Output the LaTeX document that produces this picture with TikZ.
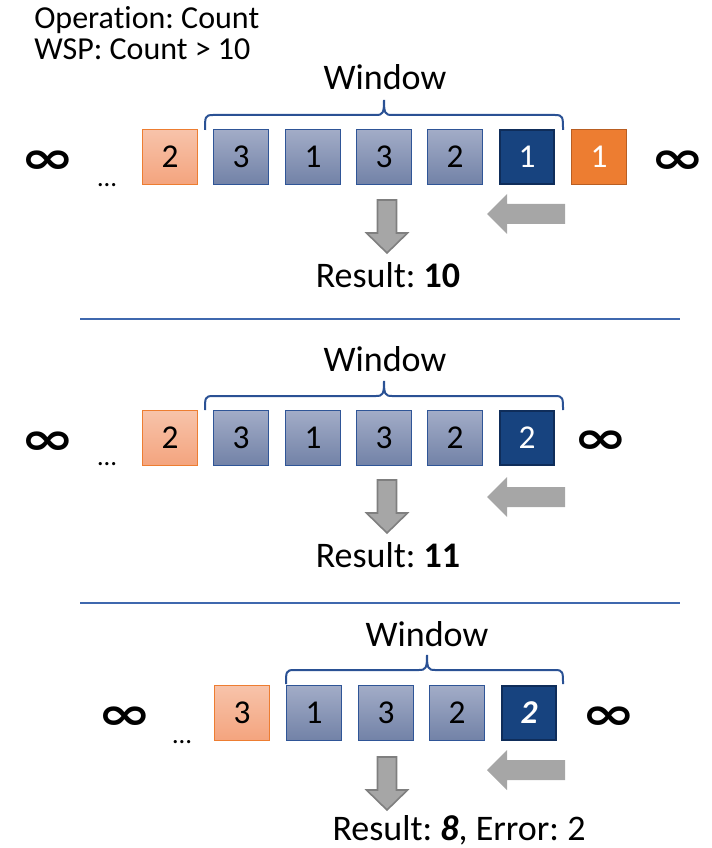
\documentclass[tikz,border=0pt]{standalone}
\usepackage{fontspec}
\setmainfont{Carlito}[Ligatures=NoCommon]
\newfontfamily\symfont{DejaVu Sans}
\frenchspacing
\definecolor{bluetop}{HTML}{A2ACC7}
\definecolor{bluebot}{HTML}{7282A7}
\definecolor{blueedge}{HTML}{2F5597}
\definecolor{darkfill}{HTML}{17437F}
\definecolor{darkedge}{HTML}{0F2D5A}
\definecolor{ltop}{HTML}{F7C3AA}
\definecolor{lbot}{HTML}{F4A47E}
\definecolor{ledge}{HTML}{ED7D31}
\definecolor{orfill}{HTML}{ED7D31}
\definecolor{oredge}{HTML}{B95E22}
\definecolor{agray}{HTML}{A6A6A6}
\definecolor{aedge}{HTML}{7F7F7F}
\definecolor{divider}{HTML}{3F68AE}
\definecolor{bracec}{HTML}{2A5194}
\tikzset{
  x=0.75pt, y=-0.75pt,
  cell/.style={minimum width=41pt, minimum height=41pt, inner sep=0pt, line width=1.1pt,
    font=\fontsize{25}{25}\selectfont},
  bluecell/.style={cell, draw=blueedge, top color=bluetop, bottom color=bluebot},
  darkcell/.style={cell, draw=darkedge, line width=1.6pt, fill=darkfill, text=white},
  lightcell/.style={cell, draw=ledge, top color=ltop, bottom color=lbot},
  orcell/.style={cell, draw=oredge, fill=orfill, text=white},
  inf/.style={inner sep=0pt},
  dots/.style={anchor=base, inner sep=0pt, font=\fontsize{20}{20}\selectfont},
  lbl/.style={anchor=base, inner sep=0pt, font=\fontsize{27}{27}\selectfont},
  hdr/.style={anchor=base west, inner sep=0pt, font=\fontsize{24}{24}\selectfont},
  bracestyle/.style={draw=bracec, line width=1.5pt},
  downarrow/.style={fill=agray, draw=aedge, line width=1.2pt},
  leftarrow/.style={fill=agray},
  divline/.style={draw=divider, line width=1.1pt}
}
\newcommand{\infsym}{\resizebox{41pt}{17pt}{\symfont\bfseries ∞}}
\newcommand{\wbrace}[5]{% left x, right x, tip x, top y, bottom y
  \draw[bracestyle] (#1,#5) .. controls (#1,#4+2) and (#1,#4) .. (#1+8,#4) -- (#3-8,#4)
    .. controls (#3-1,#4) and (#3,#4-2) .. (#3,#4-15)
    .. controls (#3,#4-2) and (#3+1,#4) .. (#3+8,#4) -- (#2-8,#4)
    .. controls (#2,#4) and (#2,#4+2) .. (#2,#5);}
\newcommand{\darrow}[2]{% center x, top y
  \draw[downarrow] (#1-9.5,#2) -- (#1+9.5,#2) -- (#1+9.5,#2+33) -- (#1+20.5,#2+33)
    -- (#1,#2+53) -- (#1-20.5,#2+33) -- (#1-9.5,#2+33) -- cycle;}
\newcommand{\larrow}[1]{% center y
  \fill[leftarrow] (565,#1-10) -- (507,#1-10) -- (507,#1-20) -- (487,#1)
    -- (507,#1+20) -- (507,#1+10) -- (565,#1+10) -- cycle;}
\begin{document}
\begin{tikzpicture}
\useasboundingbox (0,0) rectangle (712,848);
% header
\node[hdr] (op) at (34,29) {Operation: Count};
\node[hdr] (wsp) at (34,60) {WSP: Count > 10};

% ---------- row 1 ----------
\node[inf] (i1l) at (48,162) {\infsym};
\node[inf] (i1r) at (678,162) {\infsym};
\node[dots] (d1) at (107,187) {…};
\node[lightcell] (a0) at (170,157) {2};
\node[bluecell] (a1) at (241,157) {3};
\node[bluecell] (a2) at (313,157) {1};
\node[bluecell] (a3) at (384,157) {3};
\node[bluecell] (a4) at (455,157) {2};
\node[darkcell] (a5) at (527,157) {1};
\node[orcell] (a6) at (599,157) {1};
\wbrace{205}{563}{384}{115}{130}
\node[lbl] (w1) at (385,90) {Window};
\darrow{387}{200}
\larrow{214}
\node[lbl] (r1) at (388,287) {Result: \textbf{10}};
\draw[divline] (80,319) -- (680,319);

% ---------- row 2 ----------
\node[inf] (i2l) at (48,443) {\infsym};
\node[inf] (i2r) at (601,442) {\infsym};
\node[dots] (d2) at (107,465) {…};
\node[lightcell] (b0) at (170,438) {2};
\node[bluecell] (b1) at (241,438) {3};
\node[bluecell] (b2) at (313,438) {1};
\node[bluecell] (b3) at (384,438) {3};
\node[bluecell] (b4) at (455,438) {2};
\node[darkcell] (b5) at (527,438) {2};
\wbrace{205}{563}{384}{396}{410}
\node[lbl] (w2) at (385,371) {Window};
\darrow{387}{480}
\larrow{497}
\node[lbl] (r2) at (388,567) {Result: \textbf{11}};
\draw[divline] (80,603) -- (680,603);

% ---------- row 3 ----------
\node[inf] (i3l) at (125,718) {\infsym};
\node[inf] (i3r) at (609,718) {\infsym};
\node[dots] (d3) at (182,743) {…};
\node[lightcell] (c0) at (242,713) {3};
\node[bluecell] (c1) at (314,713) {1};
\node[bluecell] (c2) at (386,713) {3};
\node[bluecell] (c3) at (457,713) {2};
\node[darkcell] (c4) at (529,713) {\textbf{\textit{2}}};
\wbrace{286}{563}{427}{670}{684}
\node[lbl] (w3) at (427,646) {Window};
\darrow{387}{757}
\larrow{770}
\node[lbl] (r3) at (459,840) {Result: \textbf{\textit{8}}, Error: 2};
\end{tikzpicture}
\end{document}
